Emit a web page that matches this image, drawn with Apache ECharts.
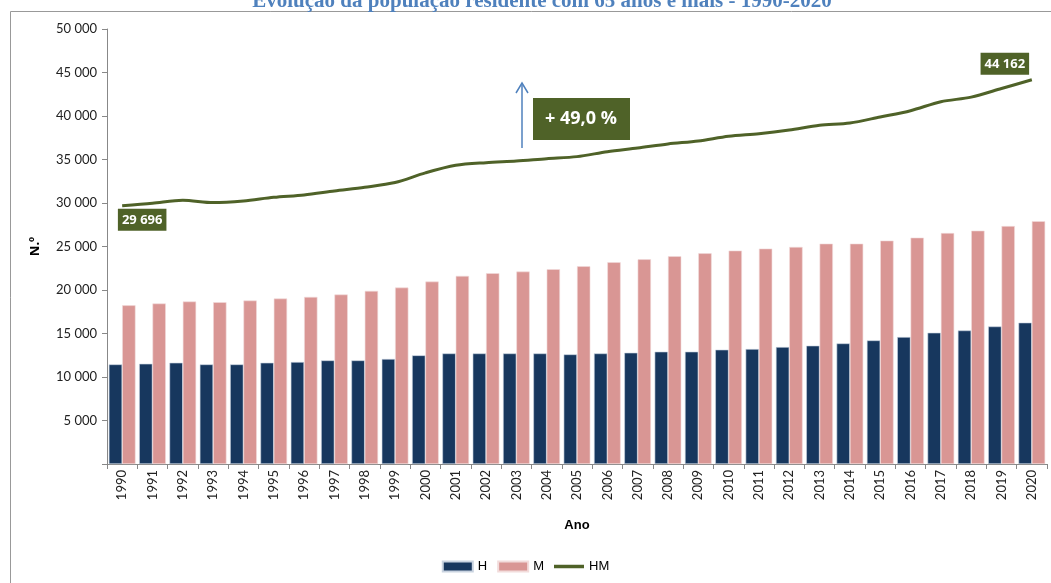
<!DOCTYPE html>
<html>
<head>
<meta charset="utf-8">
<script src="https://cdn.jsdelivr.net/npm/echarts@6/dist/echarts.min.js"></script>
<style>
  html, body { margin: 0; padding: 0; background: #fff; }
  #chart { width: 1051px; height: 583px; }
</style>
</head>
<body>
<div id="chart"></div>
<script>
// data
var years = ['1990', '1991', '1992', '1993', '1994', '1995', '1996', '1997', '1998', '1999',
  '2000', '2001', '2002', '2003', '2004', '2005', '2006', '2007', '2008', '2009', '2010',
  '2011', '2012', '2013', '2014', '2015', '2016', '2017', '2018', '2019', '2020'];
var homens = [11450, 11520, 11640, 11450, 11450, 11640, 11720, 11910, 11910, 12070,
  12490, 12710, 12710, 12710, 12710, 12600, 12710, 12790, 12910, 12910, 13140,
  13210, 13440, 13600, 13860, 14210, 14590, 15090, 15350, 15810, 16250];
var mulheres = [18240, 18450, 18680, 18600, 18790, 19020, 19210, 19480, 19900, 20280,
  20970, 21620, 21930, 22120, 22390, 22730, 23190, 23530, 23880, 24220, 24530,
  24760, 24950, 25330, 25330, 25680, 26020, 26550, 26820, 27350, 27910];
var total = [29696, 29970, 30320, 30050, 30240, 30660, 30930, 31390, 31810, 32350,
  33460, 34330, 34640, 34830, 35100, 35330, 35900, 36320, 36790, 37130, 37670,
  37970, 38390, 38930, 39190, 39890, 40610, 41640, 42170, 43160, 44162];
var yTicks = [0, 5000, 10000, 15000, 20000, 25000, 30000, 35000, 40000, 45000, 50000];

var verde = '#4F6228';

function fmt(v) {
  return String(v).replace(/\B(?=(\d{3})+(?!\d))/g, ' ');
}

var lineData = total.map(function (v, i) {
  var first = i === 0, last = i === total.length - 1;
  if (first || last) {
    return {
      value: v,
      label: {
        show: true,
        position: first ? 'bottom' : 'top',
        distance: first ? 3 : 5,
        offset: first ? [20, 0] : [-27, 0],
        formatter: function (p) { return fmt(p.value); },
        color: '#fff',
        fontWeight: 'bold',
        fontSize: 13,
        fontFamily: 'Open Sans',
        backgroundColor: verde,
        padding: [5, 4, 4, 4]
      }
    };
  }
  return v;
});

var chart = echarts.init(document.getElementById('chart'));
chart.setOption({
  animation: false,
  title: {
    text: 'Evolução da população residente com 65 anos e mais - 1990-2020',
    left: 537,
    textAlign: 'center',
    top: -14,
    textStyle: {
      color: '#4F81BD',
      fontFamily: 'Liberation Serif',
      fontWeight: 'bold',
      fontSize: 21
    }
  },
  grid: { left: 107, right: 4, top: 29, bottom: 119 },
  legend: {
    bottom: 5,
    left: 'center',
    itemWidth: 30,
    itemHeight: 10,
    itemGap: 10,
    textStyle: { fontFamily: 'Liberation Sans Narrow, Liberation Sans', fontSize: 13, color: '#000' },
    data: [
      { name: 'H', icon: 'rect' },
      { name: 'M', icon: 'rect' },
      { name: 'HM', icon: 'path://M0,0 L30,0 L30,3.5 L0,3.5 Z', itemStyle: { color: verde } }
    ]
  },
  xAxis: {
    type: 'category',
    data: years,
    name: 'Ano',
    nameLocation: 'middle',
    nameGap: 55,
    nameTextStyle: { fontWeight: 'bold', fontSize: 13, fontFamily: 'Liberation Sans Narrow, Liberation Sans', color: '#000' },
    axisLine: { lineStyle: { color: '#888' } },
    axisTick: { show: true, length: 5, lineStyle: { color: '#888' } },
    axisLabel: { rotate: 90, color: '#222', fontSize: 13, fontFamily: 'Lato', margin: 6 }
  },
  yAxis: {
    type: 'value',
    min: yTicks[0],
    max: yTicks[yTicks.length - 1],
    interval: 5000,
    name: 'N.º',
    nameLocation: 'middle',
    nameGap: 65,
    nameRotate: 90,
    nameTextStyle: { fontWeight: 'bold', fontSize: 13, fontFamily: 'Open Sans', color: '#000' },
    splitLine: { show: false },
    axisLine: { show: true, lineStyle: { color: '#888' } },
    axisTick: { show: true, length: 5, lineStyle: { color: '#888' } },
    axisLabel: {
      color: '#222',
      fontSize: 13,
      fontFamily: 'Lato',
      margin: 10,
      formatter: function (v) { return v === 0 ? '' : fmt(v); }
    }
  },
  series: [
    {
      name: 'H',
      type: 'bar',
      data: homens,
      barGap: '0%',
      barCategoryGap: '12%',
      itemStyle: { color: '#17375E', borderColor: '#c9d3e0', borderWidth: 0.6 }
    },
    {
      name: 'M',
      type: 'bar',
      data: mulheres,
      itemStyle: { color: '#D99694', borderColor: '#f2dcdb', borderWidth: 0.6 }
    },
    {
      name: 'HM',
      type: 'line',
      data: lineData,
      smooth: 0.3,
      symbol: 'circle',
      symbolSize: 0,
      showSymbol: true,
      lineStyle: { color: verde, width: 3 },
      itemStyle: { color: verde },
      z: 5
    }
  ],
  graphic: [
    {
      type: 'rect',
      shape: { x: 10.5, y: 11.5, width: 1060, height: 600 },
      style: { fill: 'none', stroke: '#999', lineWidth: 1 },
      silent: true
    },
    {
      type: 'line',
      shape: { x1: 522, y1: 148, x2: 522, y2: 85 },
      style: { stroke: '#4F81BD', lineWidth: 1.5 }
    },
    {
      type: 'polyline',
      shape: { points: [[516, 93], [522, 83], [528, 93]] },
      style: { stroke: '#4F81BD', lineWidth: 1.5, fill: 'none' }
    },
    {
      type: 'rect',
      shape: { x: 533, y: 98, width: 97, height: 42 },
      style: { fill: verde }
    },
    {
      type: 'text',
      x: 581,
      y: 119,
      style: {
        text: '+ 49,0 %',
        fill: '#fff',
        fontSize: 18,
        fontWeight: 'bold',
        fontFamily: 'Open Sans',
        align: 'center',
        verticalAlign: 'middle'
      }
    }
  ]
});
</script>
</body>
</html>
